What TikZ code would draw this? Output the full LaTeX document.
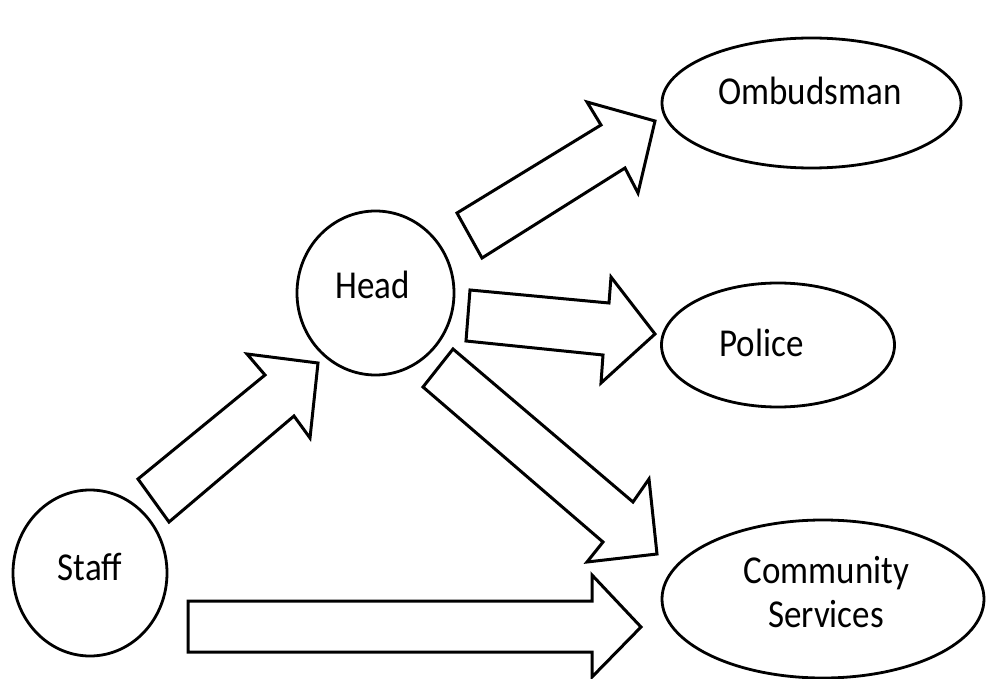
\documentclass[tikz,border=0pt]{standalone}
\usepackage{fontspec}
\setmainfont{Carlito}
\usetikzlibrary{shapes.geometric}
\newcommand{\tallword}[1]{\scalebox{1}[1.13]{#1}}
\begin{document}
\begin{tikzpicture}[x=1pt,y=-1pt,
  entity/.style={draw=black, line width=2.8pt, ellipse, inner sep=0pt},
  entitytext/.style={anchor=base, inner sep=0pt, font=\fontsize{35}{44}\selectfont},
  blockarrow/.style={draw=black, line width=3pt, line join=miter, fill=white}]
\useasboundingbox (0,0) rectangle (986,679);
\node[entity, minimum width=154pt, minimum height=166pt] (staff) at (90,573) {};
\node[entity, minimum width=157pt, minimum height=164pt] (head) at (375.5,293) {};
\node[entity, minimum width=299pt, minimum height=130pt] (omb) at (811.5,103) {};
\node[entity, minimum width=233pt, minimum height=124pt] (police) at (778,345) {};
\node[entity, minimum width=322pt, minimum height=158pt] (comm) at (823,599) {};
\node[entitytext] (staffL) at (90,580) {\tallword{Staff}};
\node[entitytext] (headL) at (372.5,299) {\tallword{Head}};
\node[entitytext] (ombL) at (810,105) {\tallword{Ombudsman}};
\node[entitytext] (policeL) at (761.5,356) {\tallword{Police}};
\node[entitytext] (commL) at (826.5,583) {\tallword{Community}};
\node[entitytext] (servL) at (826,627) {\tallword{Services}};
% staff -> head
\draw[blockarrow] (169,522) -- (138,479) -- (265,375) -- (247,354) -- (318,363) -- (310,438) -- (294,416) -- cycle;
% head -> ombudsman
\draw[blockarrow] (482,258) -- (457,213) -- (601,125) -- (587,102) -- (655,121) -- (638,193) -- (625,168) -- cycle;
% head -> police
\draw[blockarrow] (466,341) -- (470,290) -- (609,303) -- (611,277) -- (655,334) -- (601,383) -- (603,355) -- cycle;
% head -> community services
\draw[blockarrow] (423,387) -- (453,349) -- (633,502) -- (649,479) -- (657,554) -- (587,562) -- (603,542) -- cycle;
% staff -> community services
\draw[blockarrow] (188,652) -- (188,601) -- (592,601) -- (592,575) -- (641,627) -- (592,677) -- (592,652) -- cycle;
\end{tikzpicture}
\end{document}
